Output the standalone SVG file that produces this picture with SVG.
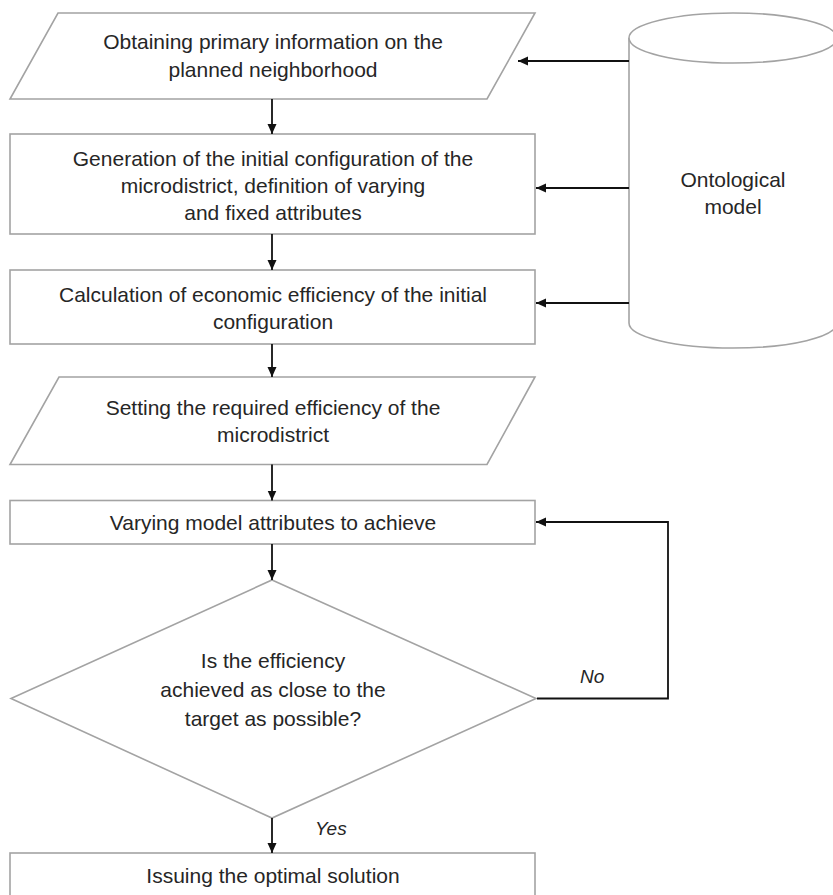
<svg xmlns="http://www.w3.org/2000/svg" width="833" height="895" viewBox="0 0 833 895">
<style>
.shape{fill:#ffffff;stroke:#a3a3a3;stroke-width:1.6}
.t{font-family:"Liberation Sans",Arial,sans-serif;font-size:21px;fill:#262626;text-anchor:middle}
.lbl{font-family:"Liberation Sans",Arial,sans-serif;font-size:19px;font-style:italic;fill:#262626}
.con{fill:none;stroke:#111111;stroke-width:1.8}
</style>
<defs>
<marker id="ah" viewBox="0 0 10 10" refX="10" refY="5" markerWidth="10" markerHeight="10" markerUnits="userSpaceOnUse" orient="auto">
<path d="M0,0.5 L10,5 L0,9.5 Z" fill="#111111"/>
</marker>
</defs>
<rect width="833" height="895" fill="#ffffff"/>

<g id="n1">
<polygon class="shape" points="58,13 535,13 487,99 10,99"/>
<text class="t" x="273" y="49">Obtaining primary information on the</text>
<text class="t" x="273" y="77">planned neighborhood</text>
</g>

<g id="n2">
<rect class="shape" x="10" y="134" width="525" height="100"/>
<text class="t" x="273" y="166">Generation of the initial configuration of the</text>
<text class="t" x="273" y="193">microdistrict, definition of varying</text>
<text class="t" x="273" y="220">and fixed attributes</text>
</g>

<g id="n3">
<rect class="shape" x="10" y="270" width="525" height="74"/>
<text class="t" x="273" y="302">Calculation of economic efficiency of the initial</text>
<text class="t" x="273" y="329">configuration</text>
</g>

<g id="n4">
<polygon class="shape" points="59,377 535,377 487,464.5 10,464.5"/>
<text class="t" x="273" y="415">Setting the required efficiency of the</text>
<text class="t" x="273" y="442">microdistrict</text>
</g>

<g id="n5">
<rect class="shape" x="10" y="500.5" width="525" height="43.5"/>
<text class="t" x="273" y="530">Varying model attributes to achieve</text>
</g>

<g id="n6">
<polygon class="shape" points="272,580 536,698.5 272,818 11,698.5"/>
<text class="t" x="273" y="668">Is the efficiency</text>
<text class="t" x="273" y="697">achieved as close to the</text>
<text class="t" x="273" y="726">target as possible?</text>
</g>

<g id="n7">
<rect class="shape" x="10" y="853" width="525" height="60"/>
<text class="t" x="273" y="883">Issuing the optimal solution</text>
</g>

<g id="n8">
<path class="shape" d="M629,38 L629,323 A104,25 0 0 0 837,323 L837,38"/>
<ellipse class="shape" cx="733" cy="38" rx="104" ry="25"/>
<text class="t" x="733" y="187">Ontological</text>
<text class="t" x="733" y="214">model</text>
</g>

<g id="connectors">
<line class="con" x1="272" y1="99" x2="272" y2="134" marker-end="url(#ah)"/>
<line class="con" x1="272" y1="234" x2="272" y2="270" marker-end="url(#ah)"/>
<line class="con" x1="272" y1="344" x2="272" y2="377" marker-end="url(#ah)"/>
<line class="con" x1="272" y1="464.5" x2="272" y2="500.5" marker-end="url(#ah)"/>
<line class="con" x1="272" y1="544" x2="272" y2="580" marker-end="url(#ah)"/>
<line class="con" x1="272" y1="818" x2="272" y2="853" marker-end="url(#ah)"/>
<line class="con" x1="629" y1="61" x2="518" y2="61" marker-end="url(#ah)"/>
<line class="con" x1="629" y1="188" x2="536" y2="188" marker-end="url(#ah)"/>
<line class="con" x1="629" y1="303" x2="536" y2="303" marker-end="url(#ah)"/>
<path class="con" d="M537,698.5 L668,698.5 L668,522 L536,522" marker-end="url(#ah)"/>
<text class="lbl" x="580" y="683">No</text>
<text class="lbl" x="315" y="835">Yes</text>
</g>
</svg>
